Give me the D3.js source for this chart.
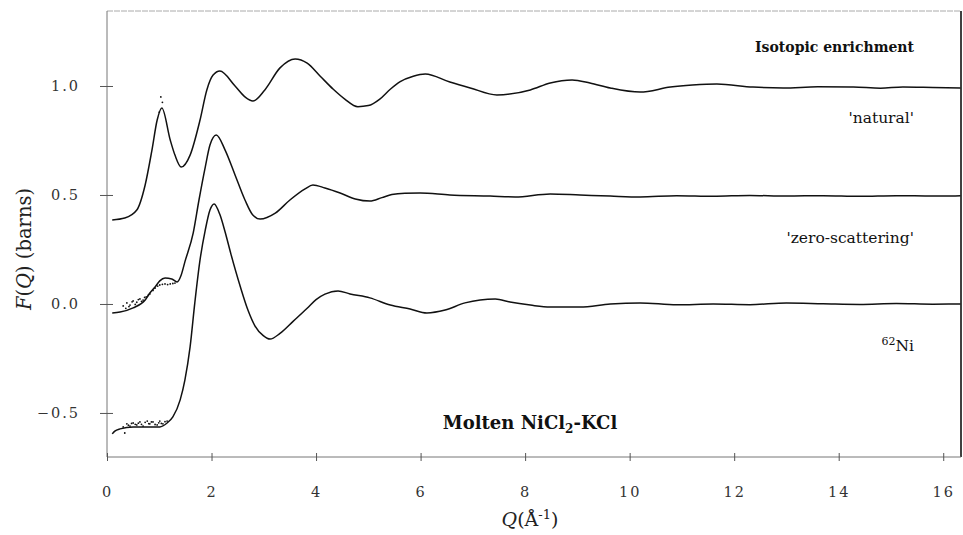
<!DOCTYPE html>
<html>
<head>
<meta charset="utf-8">
<script src="https://cdn.jsdelivr.net/npm/d3@7"></script>
<style>
  html, body { margin: 0; padding: 0; background: #fff; }
  svg { display: block; }
</style>
</head>
<body>
<svg id="chart" width="963" height="535"></svg>
<script>
// ---------- data ----------
const xTicks = [0, 2, 4, 6, 8, 10, 12, 14, 16];
const yTicks = [-0.5, 0.0, 0.5, 1.0];

// 'natural' enrichment
const naturalQ = [0.1,0.34,0.57,0.73,0.86,0.96,1.05,1.21,1.30,1.42,1.59,1.78,1.91,2.03,2.16,2.45,2.64,2.79,3.02,3.31,3.60,3.83,4.08,4.33,4.55,4.80,5.00,5.22,5.42,5.61,5.86,6.09,6.56,6.95,7.46,8.10,8.48,8.90,9.24,9.63,10.20,10.78,11.20,11.67,12.36,12.94,13.60,14.28,14.80,15.23,15.80,16.33];
const naturalF = [0.385,0.394,0.431,0.546,0.706,0.844,0.899,0.752,0.683,0.628,0.683,0.844,0.982,1.050,1.069,1.000,0.950,0.931,0.982,1.083,1.124,1.105,1.045,0.985,0.940,0.905,0.910,0.940,0.985,1.020,1.045,1.055,1.018,0.991,0.959,0.982,1.014,1.028,1.014,0.991,0.972,0.995,1.004,1.009,0.995,0.991,0.996,0.995,0.990,0.995,0.993,0.991];
const naturalDotsQ = [1.03, 1.06, 1.00];
const naturalDotsF = [0.950, 0.925, 0.880];

// 'zero-scattering' enrichment
const zeroQ = [0.1,0.25,0.50,0.73,0.82,0.92,1.01,1.11,1.24,1.34,1.42,1.49,1.65,1.76,1.88,1.97,2.09,2.26,2.45,2.64,2.79,2.93,3.22,3.50,3.79,3.94,4.17,4.46,4.75,5.03,5.26,5.45,5.70,5.99,6.56,7.33,7.81,8.48,9.05,9.63,10.20,10.90,11.60,12.30,13.00,13.70,14.40,15.10,15.80,16.33];
const zeroF = [-0.041,-0.037,-0.018,0.018,0.050,0.078,0.106,0.119,0.115,0.101,0.133,0.193,0.326,0.477,0.628,0.729,0.775,0.706,0.592,0.477,0.408,0.390,0.417,0.477,0.528,0.546,0.532,0.509,0.482,0.472,0.488,0.502,0.508,0.509,0.500,0.495,0.491,0.505,0.500,0.495,0.491,0.497,0.494,0.498,0.495,0.497,0.494,0.497,0.495,0.496];
const zeroDotsQ = [0.31,0.36,0.38,0.42,0.44,0.48,0.50,0.54,0.57,0.60,0.63,0.66,0.69,0.72,0.75,0.79,0.82,0.88,0.92,0.97,1.01,1.06,1.11,1.16,1.21,1.26,1.30];
const zeroDotsF = [-0.009,-0.020,0.005,-0.012,-0.005,0.010,0.014,-0.002,0.008,0.020,0.023,0.012,0.018,0.030,0.032,0.040,0.046,0.062,0.073,0.082,0.087,0.090,0.092,0.089,0.092,0.094,0.096];

// 62Ni enrichment
const niQ = [0.1,0.15,0.25,0.50,0.82,1.01,1.15,1.26,1.40,1.49,1.59,1.68,1.78,1.88,1.97,2.05,2.16,2.26,2.37,2.55,2.70,2.83,2.99,3.12,3.31,3.56,3.83,4.00,4.17,4.42,4.65,5.03,5.42,5.80,6.12,6.47,6.85,7.43,7.71,8.10,8.48,9.05,9.63,10.20,10.90,11.60,12.30,13.00,13.70,14.40,15.10,15.80,16.33];
const niF = [-0.596,-0.583,-0.573,-0.564,-0.564,-0.564,-0.546,-0.518,-0.440,-0.349,-0.197,0.005,0.202,0.339,0.431,0.459,0.410,0.330,0.230,0.080,-0.030,-0.100,-0.145,-0.161,-0.135,-0.080,-0.020,0.020,0.045,0.060,0.046,0.028,-0.005,-0.023,-0.041,-0.028,0.005,0.023,0.009,-0.005,-0.014,-0.014,0.000,0.005,-0.004,0.000,-0.003,0.004,0.001,-0.002,0.002,-0.001,0.000];
const niDotsQ = [0.31,0.34,0.38,0.41,0.44,0.47,0.50,0.54,0.57,0.60,0.63,0.66,0.69,0.73,0.77,0.80,0.82,0.85,0.88,0.92,0.96,0.99,1.01,1.04,1.07,1.11,1.15];
const niDotsF = [-0.564,-0.592,-0.550,-0.556,-0.560,-0.548,-0.546,-0.552,-0.555,-0.547,-0.541,-0.552,-0.560,-0.543,-0.537,-0.549,-0.550,-0.541,-0.541,-0.553,-0.555,-0.545,-0.537,-0.548,-0.550,-0.540,-0.537];

// ---------- layout ----------
const svg = d3.select("#chart");
const L = 107, R = 961, T = 11, B = 457;
const x = d3.scaleLinear().domain([0, 16.34]).range([L, R]);
const y = d3.scaleLinear().domain([-0.702, 1.344]).range([B, T]);

const serif = "'DejaVu Serif', 'Liberation Serif', serif";

// frame
svg.append("line").attr("x1", L).attr("x2", R).attr("y1", T).attr("y2", T)
  .attr("stroke", "#aaa").attr("stroke-width", 1).attr("stroke-dasharray", "6,1");
svg.append("line").attr("x1", R).attr("x2", R).attr("y1", T).attr("y2", B)
  .attr("stroke", "#111").attr("stroke-width", 1.6);

// axes
const yAxis = svg.append("g").attr("transform", `translate(${L},0)`)
  .call(d3.axisLeft(y).tickValues(yTicks).tickFormat(d3.format(".1f")).tickSize(7).tickPadding(20));
yAxis.select(".domain").attr("d", `M0,${T}V${B}`).attr("stroke", "#777");
yAxis.selectAll(".tick line").attr("x1", 6).attr("x2", -7).attr("stroke", "#555");
yAxis.selectAll(".tick text").attr("font-family", serif).attr("font-size", 14.5)
  .attr("letter-spacing", "2px").attr("fill", "#333");

const xAxis = svg.append("g").attr("transform", `translate(0,${B})`)
  .call(d3.axisBottom(x).tickValues(xTicks).tickFormat(d3.format("d")).tickSize(4).tickPadding(26));
xAxis.select(".domain").attr("d", `M${L},0H${R}`).attr("stroke", "#777");
xAxis.selectAll(".tick line").attr("y1", -4).attr("y2", 4).attr("stroke", "#555");
xAxis.selectAll(".tick text").attr("font-family", serif).attr("font-size", 14.5)
  .attr("letter-spacing", "2px").attr("fill", "#333");

// axis titles
const xt = svg.append("text").attr("x", 530).attr("y", 526).attr("text-anchor", "middle")
  .attr("font-family", serif).attr("font-size", 19).attr("fill", "#222");
xt.append("tspan").attr("font-style", "italic").text("Q");
xt.append("tspan").text("(Å");
xt.append("tspan").attr("font-size", 13).attr("dy", -7).text("-1");
xt.append("tspan").attr("dy", 7).text(")");

const yt = svg.append("text").attr("transform", "translate(31,249) rotate(-90)")
  .attr("text-anchor", "middle").attr("font-family", serif).attr("font-size", 19.5).attr("fill", "#222");
yt.append("tspan").attr("font-style", "italic").text("F");
yt.append("tspan").text("(");
yt.append("tspan").attr("font-style", "italic").text("Q");
yt.append("tspan").text(") (barns)");

// curves
const line = d3.line().x(d => x(d[0])).y(d => y(d[1])).curve(d3.curveMonotoneX);
const series = [
  {q: naturalQ, f: naturalF, dq: naturalDotsQ, df: naturalDotsF},
  {q: zeroQ, f: zeroF, dq: zeroDotsQ, df: zeroDotsF},
  {q: niQ, f: niF, dq: niDotsQ, df: niDotsF}
];
series.forEach(s => {
  const pts = s.q.map((q, i) => [q, s.f[i]]);
  svg.append("path").attr("d", line(pts)).attr("fill", "none")
    .attr("stroke", "#111").attr("stroke-width", 1.5);
  svg.append("g").selectAll("circle").data(s.dq.map((q, i) => [q, s.df[i]])).join("circle")
    .attr("cx", d => x(d[0])).attr("cy", d => y(d[1])).attr("r", 0.9).attr("fill", "#111");
});

// annotations
svg.append("text").attr("x", 914).attr("y", 52).attr("text-anchor", "end")
  .attr("font-family", serif).attr("font-weight", "bold").attr("font-size", 14).attr("fill", "#111")
  .text("Isotopic enrichment");
svg.append("text").attr("x", 914).attr("y", 123).attr("text-anchor", "end")
  .attr("font-family", serif).attr("font-size", 15.5).attr("fill", "#111").text("'natural'");
svg.append("text").attr("x", 914).attr("y", 243).attr("text-anchor", "end")
  .attr("font-family", serif).attr("font-size", 15.5).attr("fill", "#111").text("'zero-scattering'");
const ni = svg.append("text").attr("x", 914).attr("y", 351).attr("text-anchor", "end")
  .attr("font-family", serif).attr("font-size", 15.5).attr("fill", "#111");
ni.append("tspan").attr("font-size", 11).attr("dy", -6).text("62");
ni.append("tspan").attr("dy", 6).text("Ni");

const mt = svg.append("text").attr("x", 530).attr("y", 429).attr("text-anchor", "middle")
  .attr("font-family", serif).attr("font-weight", "bold").attr("font-size", 18).attr("fill", "#111");
mt.append("tspan").text("Molten NiCl");
mt.append("tspan").attr("font-size", 12).attr("dy", 4).text("2");
mt.append("tspan").attr("dy", -4).text("-KCl");
</script>
</body>
</html>
